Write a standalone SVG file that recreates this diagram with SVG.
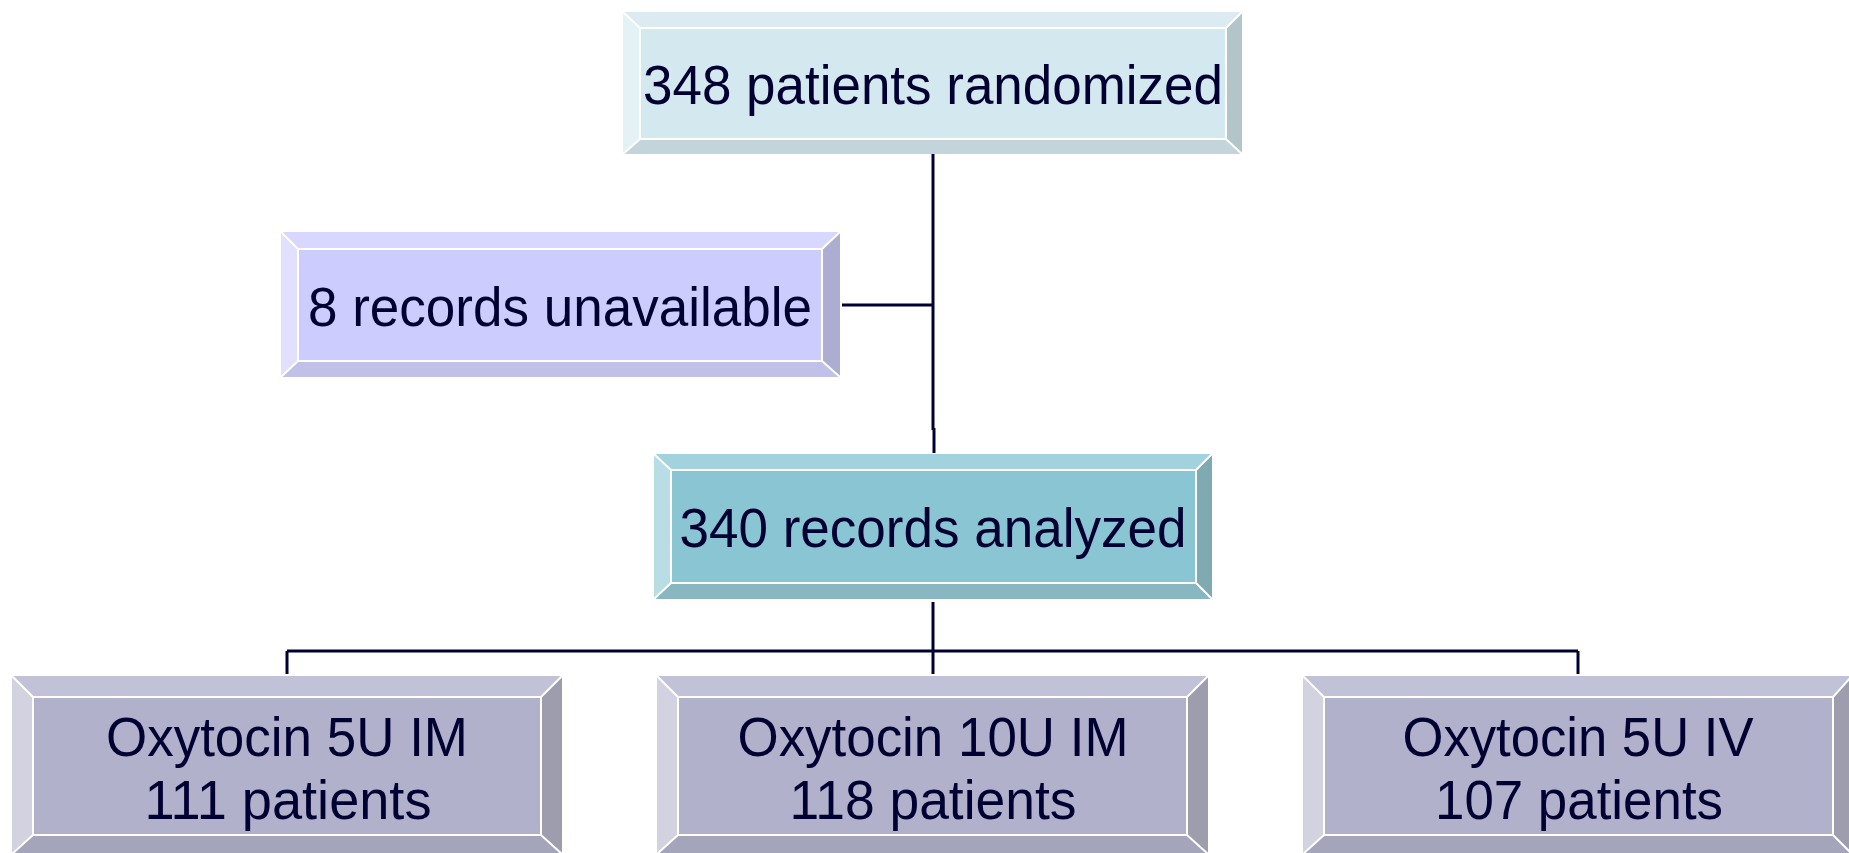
<svg xmlns="http://www.w3.org/2000/svg" width="1849" height="853" viewBox="0 0 1849 853">
<style>
.t{font-family:"Liberation Sans",Arial,sans-serif;font-size:55px;fill:#000033;text-anchor:middle}
.e{stroke:#ffffff;stroke-width:2;fill:none}
.c{stroke:#000033;stroke-width:3;fill:none}
</style>
<rect width="1849" height="853" fill="#ffffff"/>
<g id="connectors">
<path class="c" d="M933 154V430"/>
<path class="c" d="M934 428V453"/>
<path class="c" d="M842 305H933"/>
<path class="c" d="M933 602V651"/>
<path class="c" d="M287 651H1578"/>
<path class="c" d="M287 651V674"/>
<path class="c" d="M933 651V674"/>
<path class="c" d="M1578 651V674"/>
</g>
<g id="n1">
<polygon points="623,12 1242,12 1226,28 640,28" fill="#DCEBF1"/>
<polygon points="623,12 640,28 640,139 623,154" fill="#E4F1F5"/>
<polygon points="1242,12 1242,154 1226,139 1226,28" fill="#B3C5C9"/>
<polygon points="623,154 640,139 1226,139 1242,154" fill="#C3D5DB"/>
<rect x="640" y="28" width="586" height="111" class="e" style="fill:#D4E8EF"/>
<path class="e" d="M623 12L640 28M1242 12L1226 28M623 154L640 139M1242 154L1226 139"/>
<text class="t" x="933" y="104" textLength="580" lengthAdjust="spacingAndGlyphs">348 patients randomized</text>
</g>
<g id="n2">
<polygon points="281,232 840,232 822,249 298,249" fill="#D7D7FF"/>
<polygon points="281,232 298,249 298,361 281,377" fill="#E1E1FF"/>
<polygon points="840,232 840,377 822,361 822,249" fill="#ADADD2"/>
<polygon points="281,377 298,361 822,361 840,377" fill="#C0C0E8"/>
<rect x="298" y="249" width="524" height="112" class="e" style="fill:#CCCCFF"/>
<path class="e" d="M281 232L298 249M840 232L822 249M281 377L298 361M840 377L822 361"/>
<text class="t" x="560" y="326" textLength="504" lengthAdjust="spacingAndGlyphs">8 records unavailable</text>
</g>
<g id="n3">
<polygon points="654,454 1212,454 1196,470 671,470" fill="#A2D2DD"/>
<polygon points="654,454 671,470 671,583 654,599" fill="#B8DDE5"/>
<polygon points="1212,454 1212,599 1196,583 1196,470" fill="#80AAB2"/>
<polygon points="654,599 671,583 1196,583 1212,599" fill="#88B7C1"/>
<rect x="671" y="470" width="525" height="113" class="e" style="fill:#8AC5D3"/>
<path class="e" d="M654 454L671 470M1212 454L1196 470M654 599L671 583M1212 599L1196 583"/>
<text class="t" x="933" y="547" textLength="507" lengthAdjust="spacingAndGlyphs">340 records analyzed</text>
</g>
<g id="n4">
<polygon points="12,676 562,676 541,697 33,697" fill="#C1C1D7"/>
<polygon points="12,676 33,697 33,835 12,854" fill="#D2D2E1"/>
<polygon points="562,676 562,854 541,835 541,697" fill="#9D9DAE"/>
<polygon points="12,854 33,835 541,835 562,854" fill="#A4A4BB"/>
<rect x="33" y="697" width="508" height="138" class="e" style="fill:#B1B1CC"/>
<path class="e" d="M12 676L33 697M562 676L541 697M12 854L33 835M562 854L541 835"/>
<text class="t" x="287" y="756" textLength="362" lengthAdjust="spacingAndGlyphs">Oxytocin 5U IM</text>
<text class="t" x="288" y="819" textLength="287" lengthAdjust="spacingAndGlyphs">111 patients</text>
</g>
<g id="n5">
<polygon points="657,676 1208,676 1187,697 678,697" fill="#C1C1D7"/>
<polygon points="657,676 678,697 678,835 657,854" fill="#D2D2E1"/>
<polygon points="1208,676 1208,854 1187,835 1187,697" fill="#9D9DAE"/>
<polygon points="657,854 678,835 1187,835 1208,854" fill="#A4A4BB"/>
<rect x="678" y="697" width="509" height="138" class="e" style="fill:#B1B1CC"/>
<path class="e" d="M657 676L678 697M1208 676L1187 697M657 854L678 835M1208 854L1187 835"/>
<text class="t" x="933" y="756" textLength="391" lengthAdjust="spacingAndGlyphs">Oxytocin 10U IM</text>
<text class="t" x="933" y="819" textLength="287" lengthAdjust="spacingAndGlyphs">118 patients</text>
</g>
<g id="n6">
<polygon points="1303,676 1852,676 1833,697 1324,697" fill="#C1C1D7"/>
<polygon points="1303,676 1324,697 1324,835 1303,854" fill="#D2D2E1"/>
<polygon points="1852,676 1852,854 1833,835 1833,697" fill="#9D9DAE"/>
<polygon points="1303,854 1324,835 1833,835 1852,854" fill="#A4A4BB"/>
<rect x="1324" y="697" width="509" height="138" class="e" style="fill:#B1B1CC"/>
<path class="e" d="M1303 676L1324 697M1852 676L1833 697M1303 854L1324 835M1852 854L1833 835"/>
<text class="t" x="1578" y="756" textLength="351" lengthAdjust="spacingAndGlyphs">Oxytocin 5U IV</text>
<text class="t" x="1579" y="819" textLength="288" lengthAdjust="spacingAndGlyphs">107 patients</text>
</g>
</svg>
